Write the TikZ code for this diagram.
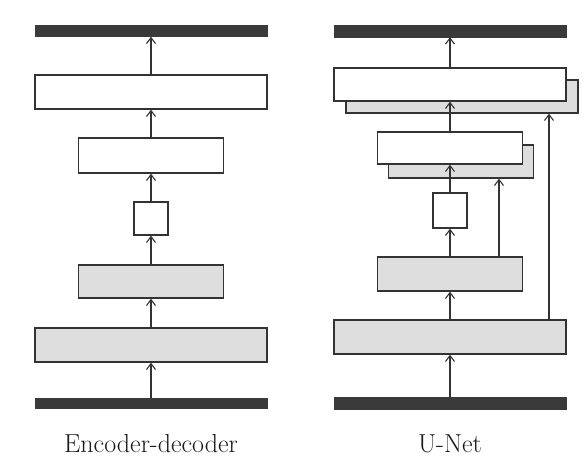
\documentclass[tikz,border=0pt]{standalone}
\usepackage{fontspec}
\usetikzlibrary{arrows.meta}
\definecolor{barc}{HTML}{3A3A3A}
\definecolor{grayf}{HTML}{DEDEDE}
\definecolor{linec}{HTML}{333333}
\tikzset{
  blk/.style={draw=linec, line width=1.2pt, inner sep=0pt, fill=white},
  gblk/.style={blk, fill=grayf},
  bar/.style={draw=barc, fill=barc, inner sep=0pt, minimum width=232pt},
  arr/.style={draw=linec, line width=1.1pt, -{Straight Barb[length=6pt,width=9pt,line width=1.1pt]}},
  lbl/.style={font=\fontsize{26}{30}\selectfont, anchor=base, text=black!90}
}
\begin{document}
\begin{tikzpicture}[x=1pt,y=-1pt]
\useasboundingbox (0,0) rectangle (584,464);
\fill[white] (0,0) rectangle (584,464);
% ---- Encoder-decoder ----
\node[bar, minimum height=11pt] (topL) at (151,31) {};
\node[blk, minimum width=232pt, minimum height=34pt] (L1) at (151,92) {};
\node[blk, minimum width=145pt, minimum height=35pt] (L2) at (151,155.5) {};
\node[blk, minimum width=34pt, minimum height=33pt] (L3) at (151,218.5) {};
\node[gblk, minimum width=145pt, minimum height=33pt] (L4) at (151,281.5) {};
\node[gblk, minimum width=232pt, minimum height=34pt] (L5) at (151,345) {};
\node[bar, minimum height=10pt] (botL) at (151,403) {};
\draw[arr] (botL.north) -- (L5.south);
\draw[arr] (L5.north) -- (L4.south);
\draw[arr] (L4.north) -- (L3.south);
\draw[arr] (L3.north) -- (L2.south);
\draw[arr] (L2.north) -- (L1.south);
\draw[arr] (L1.north) -- (topL.south);
\node[lbl] (capL) at (151,452) {Encoder-decoder};
% ---- U-Net ----
\node[bar, minimum height=12pt] (topR) at (450,31) {};
\node[gblk, minimum width=232pt, minimum height=33pt] (R1s) at (462,96.5) {};
\node[blk, minimum width=232pt, minimum height=33pt] (R1) at (450,84.5) {};
\node[gblk, minimum width=145pt, minimum height=33pt] (R2s) at (461,161.5) {};
\node[blk, minimum width=145pt, minimum height=32pt] (R2) at (450,148) {};
\node[blk, minimum width=34pt, minimum height=35pt] (R3) at (450,210.5) {};
\node[gblk, minimum width=145pt, minimum height=34pt] (R4) at (450,274) {};
\node[gblk, minimum width=232pt, minimum height=34pt] (R5) at (450,337) {};
\node[bar, minimum height=12pt] (botR) at (450,403) {};
\draw[arr] (botR.north) -- (R5.south);
\draw[arr] (R5.north) -- (R4.south);
\draw[arr] (R4.north) -- (R3.south);
\draw[arr] (R3.north) -- (R2.south);
\draw[arr] (R2.north) -- (R1.south);
\draw[arr] (R1.north) -- (topR.south);
\coordinate (s1) at (499,0);
\coordinate (s2) at (549,0);
\draw[arr] (R4.north -| s1) -- (R2s.south -| s1);
\draw[arr] (R5.north -| s2) -- (R1s.south -| s2);
\node[lbl] (capR) at (450,452) {U-Net};
\end{tikzpicture}
\end{document}
